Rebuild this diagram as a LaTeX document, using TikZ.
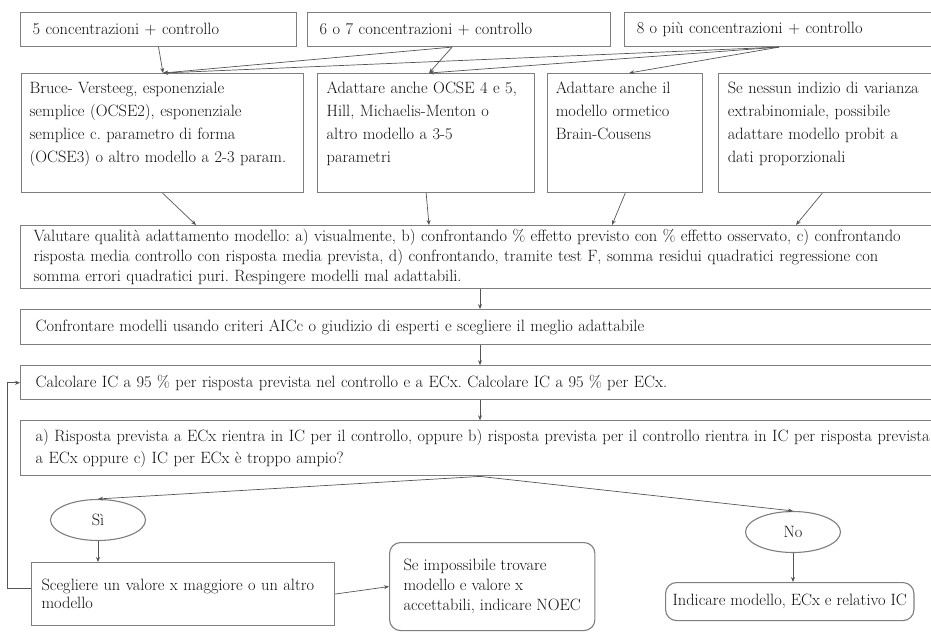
\documentclass[tikz,border=0pt]{standalone}
\usepackage{tikz}
\usetikzlibrary{shapes.geometric,arrows.meta,positioning,calc}
\usepackage{xcolor}

\definecolor{boxgray}{HTML}{7E7E7E}
\definecolor{linegray}{HTML}{555555}
\definecolor{txtgray}{HTML}{111111}

\begin{document}
\frenchspacing
\begin{tikzpicture}[x=1pt, y=1pt, node distance=10pt and 10pt]
    \tikzset{box/.style={rectangle, draw=boxgray, line width=1.1pt, align=left, anchor=north west, text=txtgray, inner xsep=12pt, inner ysep=0pt, font={\fontsize{16.4}{20}\selectfont}}}
    \tikzset{tall/.style={font={\fontsize{16.4}{23}\selectfont}, inner ysep=8pt, text height=12pt, text depth=91pt}}
    \tikzset{soft/.style={box, rounded corners=11pt}}
    \tikzset{choice/.style={ellipse, draw=boxgray, line width=1.1pt, minimum width=95pt, minimum height=41pt, inner sep=0pt, text=txtgray, font={\fontsize{16.4}{20}\selectfont}}}
    \tikzset{arrow/.style={-{Stealth[length=5pt, width=4pt]}, draw=linegray, line width=0.7pt}}

    \useasboundingbox (0,0) rectangle (931,-632);

    % Concentrazioni
    \node[box, text width=252pt, minimum height=34pt] (top5) at (20,-12) {5 concentrazioni + controllo};
    \node[box, text width=279pt, minimum height=34pt, right=10pt of top5.north east, anchor=north west] (top67) {6 o 7 concentrazioni + controllo};
    \node[box, text width=299pt, minimum height=34pt, right=13pt of top67.north east, anchor=north west] (top8) {8 o più concentrazioni + controllo};

    % Modelli
    \node[box, tall, inner xsep=8pt, text width=266pt] (mBruce) at (21,-73) {Bruce- Versteeg, esponenziale\\semplice (OCSE2), esponenziale\\semplice c. parametro di forma\\(OCSE3) o altro modello a 2-3 param.};
    \node[box, tall, inner xsep=9pt, text width=199pt, right=13pt of mBruce.north east, anchor=north west] (mOcse) {Adattare anche OCSE 4 e 5,\\Hill, Michaelis-Menton o\\altro modello a 3-5\\parametri};
    \node[box, tall, inner xsep=8pt, text width=139pt, right=12pt of mOcse.north east, anchor=north west] (mBrain) {Adattare anche il\\modello ormetico\\Brain-Cousens};
    \node[box, tall, inner xsep=9pt, text width=230pt, right=15pt of mBrain.north east, anchor=north west] (mProbit) {Se nessun indizio di varianza\\extrabinomiale, possibile\\adattare modello probit a\\dati proporzionali};

    % Valutazione
    \node[box, inner xsep=13pt, text width=960pt, minimum height=63pt] (valutare) at (20,-225) {Valutare qualità adattamento modello: a) visualmente, b) confrontando \% effetto previsto con \% effetto osservato, c) confrontando\\risposta media controllo con risposta media prevista, d) confrontando, tramite test F, somma residui quadratici regressione con\\somma errori quadratici puri. Respingere modelli mal adattabili.};
    \node[box, inner xsep=15pt, text width=960pt, minimum height=35pt, below=20pt of valutare.south west, anchor=north west] (confronta) {Confrontare modelli usando criteri AICc o giudizio di esperti e scegliere il meglio adattabile};
    \node[box, inner xsep=15pt, text width=960pt, minimum height=34pt, below=20pt of confronta.south west, anchor=north west] (calcola) {Calcolare IC a 95 \% per risposta prevista nel controllo e a ECx. Calcolare IC a 95 \% per ECx.};
    \node[box, inner xsep=15pt, text width=960pt, minimum height=55pt, font={\fontsize{16.4}{22}\selectfont}, below=20pt of calcola.south west, anchor=north west] (risposta) {a) Risposta prevista a ECx rientra in IC per il controllo, oppure b) risposta prevista per il controllo rientra in IC per risposta prevista\\a ECx oppure c) IC per ECx è troppo ampio?};

    % Esito
    \node[choice] (si) at (98,-520) {Sì};
    \node[choice] (no) at (793,-532) {No};
    \node[box, inner xsep=10pt, text width=283pt, minimum height=63pt, font={\fontsize{16.4}{18}\selectfont}] (scegli) at (31,-562) {Scegliere un valore x maggiore o un altro\\modello};
    \node[soft, inner xsep=14pt, minimum width=205pt, minimum height=88pt] (noec) at (389,-542) {Se impossibile trovare\\modello e valore x\\accettabili, indicare NOEC};
    \node[soft, inner xsep=7pt, minimum height=38pt] (indica) at (665,-582) {Indicare modello, ECx e relativo IC};

    \coordinate (inA) at ([xshift=142pt]mBruce.north west);
    \coordinate (inB) at ([xshift=112pt]mOcse.north west);
    \coordinate (inC) at ([xshift=82pt]mBrain.north west);
    \coordinate (out67) at ([xshift=145pt]top67.south west);
    \coordinate (out8) at ([xshift=155pt]top8.south west);
    \coordinate (spine) at ([xshift=460pt]valutare.south west);

    % Arrows
    \draw[arrow] (top5.south) -- (inA);
    \draw[arrow] (out67) -- (inA);
    \draw[arrow] (out67) -- (inB);
    \draw[arrow] (out8) -- (inA);
    \draw[arrow] (out8) -- (inB);
    \draw[arrow] (out8) -- (inC);

    \draw[arrow] (mBruce.south) -- ([xshift=176pt]valutare.north west);
    \draw[arrow] (mOcse.south) -- ([xshift=409pt]valutare.north west);
    \draw[arrow] (mBrain.south) -- ([xshift=592pt]valutare.north west);
    \draw[arrow] ([xshift=104pt]mProbit.south west) -- ([xshift=776pt]valutare.north west);

    \draw[arrow] (spine) -- (spine |- confronta.north);
    \draw[arrow] (spine |- confronta.south) -- (spine |- calcola.north);
    \draw[arrow] (spine |- calcola.south) -- (spine |- risposta.north);
    \draw[arrow] (spine |- risposta.south) -- (si.north);
    \draw[arrow] (spine |- risposta.south) -- (no.north);

    \draw[arrow] (si.south) -- (si.south |- scegli.north);
    \draw[arrow] (no.south) -- (no.south |- indica.north);
    \draw[arrow] (scegli.east) -- (noec.west);
    \draw[arrow] ([yshift=6pt]scegli.west) -- ++(-24pt,0) |- (calcola.west);
\end{tikzpicture}
\end{document}
